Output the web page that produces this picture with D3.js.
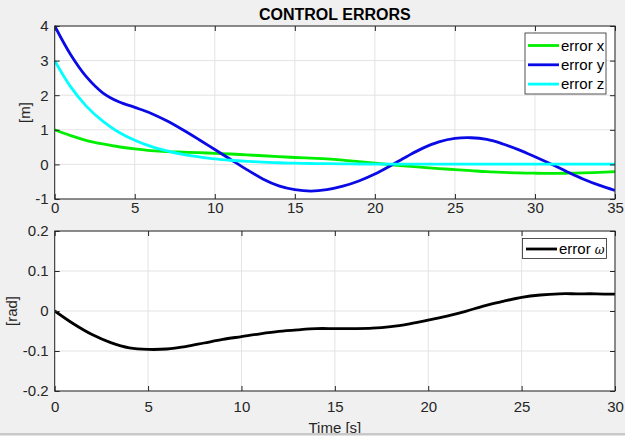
<!DOCTYPE html>
<html><head><meta charset="utf-8">
<script src="https://cdn.jsdelivr.net/npm/d3@7"></script>
<style>
html,body{margin:0;padding:0;background:#f0f0f0;}
svg{display:block;}
text{font-family:"Liberation Sans",Arial,Helvetica,sans-serif;}
</style></head>
<body>
<svg id="chart" width="625" height="441"></svg>
<script>
// ---- data ----
const timeTop = d3.range(0, 36);
const errorX = [1.0,0.83,0.69,0.59,0.51,0.45,0.40,0.37,0.355,0.34,0.32,0.30,0.275,0.25,0.225,0.20,0.18,0.16,0.125,0.08,0.035,-0.01,-0.05,-0.085,-0.12,-0.15,-0.18,-0.21,-0.23,-0.245,-0.255,-0.26,-0.255,-0.245,-0.23,-0.21];
const errorY = [4.0,3.17,2.52,2.07,1.81,1.65,1.48,1.26,1.00,0.72,0.43,0.14,-0.15,-0.42,-0.62,-0.73,-0.77,-0.73,-0.63,-0.48,-0.28,-0.03,0.23,0.47,0.65,0.75,0.77,0.72,0.59,0.42,0.22,0.01,-0.21,-0.42,-0.60,-0.75];
const errorZ = [3.0,2.24,1.67,1.25,0.93,0.70,0.52,0.39,0.29,0.22,0.16,0.12,0.09,0.065,0.048,0.035,0.026,0.02,0.015,0.012,0.01,0.01,0.01,0.01,0.01,0.01,0.01,0.01,0.01,0.01,0.01,0.01,0.01,0.01,0.01,0.01];
const timeBottom = d3.range(0, 31);
const errorW = [0,-0.032,-0.059,-0.079,-0.092,-0.096,-0.095,-0.089,-0.080,-0.071,-0.064,-0.057,-0.051,-0.047,-0.044,-0.044,-0.044,-0.043,-0.039,-0.032,-0.023,-0.013,-0.001,0.013,0.024,0.034,0.040,0.043,0.043,0.043,0.042];
const topXTicks = [0,5,10,15,20,25,30,35];
const topYTicks = [-1,0,1,2,3,4];
const botXTicks = [0,5,10,15,20,25,30];
const botYTicks = [-0.2,-0.1,0,0.1,0.2];
const topSeries = [
  {name:"error x", values:errorX, color:"#00ee00"},
  {name:"error y", values:errorY, color:"#0a0ae6"},
  {name:"error z", values:errorZ, color:"#00ffff"}
];
const title = "CONTROL ERRORS";

// ---- layout ----
const svg = d3.select("#chart");
const L = 54.7, R = 615;
const axisColor = "#262626", gridColor = "#e3e3e3";
const hyph = s => s.replace("\u2212", "-");

function panel(top, bottom, xDomain, yDomain, xTicks, yTicks, yFmt, ylabel, ylabelX, xPad, clipId){
  const x = d3.scaleLinear().domain(xDomain).range([L, R]);
  const y = d3.scaleLinear().domain(yDomain).range([bottom, top]);
  const g = svg.append("g");
  g.append("rect").attr("x", L).attr("y", top).attr("width", R-L).attr("height", bottom-top).attr("fill", "#fff");
  g.append("g").selectAll("line").data(xTicks).join("line")
    .attr("x1", d=>x(d)).attr("x2", d=>x(d)).attr("y1", top).attr("y2", bottom)
    .attr("stroke", gridColor).attr("stroke-width", 1);
  g.append("g").selectAll("line").data(yTicks).join("line")
    .attr("x1", L).attr("x2", R).attr("y1", d=>y(d)).attr("y2", d=>y(d))
    .attr("stroke", gridColor).attr("stroke-width", 1);
  svg.append("clipPath").attr("id", clipId).append("rect")
    .attr("x", L).attr("y", top-2).attr("width", R-L).attr("height", bottom-top+4);
  return {x, y, g, top, bottom, xTicks, yTicks, yFmt, ylabel, ylabelX, xPad};
}

function finishAxes(p){
  const {x, y, top, bottom, xTicks, yTicks, yFmt} = p;
  const style = sel => {
    sel.select(".domain").remove();
    sel.selectAll(".tick line").attr("stroke", axisColor);
    sel.selectAll(".tick text").attr("fill", axisColor).style("font-size", "15px");
  };
  svg.append("g").attr("transform", `translate(0,${bottom})`)
    .call(d3.axisBottom(x).tickValues(xTicks).tickSizeInner(-5).tickSizeOuter(0).tickPadding(p.xPad).tickFormat(d3.format("d")))
    .call(style);
  svg.append("g").attr("transform", `translate(0,${top})`)
    .call(d3.axisTop(x).tickValues(xTicks).tickSizeInner(-5).tickSizeOuter(0).tickFormat(""))
    .call(style);
  svg.append("g").attr("transform", `translate(${L},0)`)
    .call(d3.axisLeft(y).tickValues(yTicks).tickSizeInner(-5).tickSizeOuter(0).tickPadding(6).tickFormat(yFmt))
    .call(style);
  svg.append("g").attr("transform", `translate(${R},0)`)
    .call(d3.axisRight(y).tickValues(yTicks).tickSizeInner(-5).tickSizeOuter(0).tickFormat(""))
    .call(style);
  svg.append("rect").attr("x", L).attr("y", top).attr("width", R-L).attr("height", bottom-top)
    .attr("fill", "none").attr("stroke", axisColor).attr("stroke-width", 1);
  svg.append("text").attr("transform", `translate(${p.ylabelX},${(top+bottom)/2}) rotate(-90)`)
    .attr("text-anchor", "middle").attr("fill", axisColor).style("font-size", "15px").text(p.ylabel);
}

const curve = d3.line().curve(d3.curveCatmullRom.alpha(0.5));

// ---- top panel ----
const pTop = panel(26, 199, [0,35], [-1,4], topXTicks, topYTicks, d => hyph(d3.format("d")(d)), "[m]", 30, 3, "clipTop");
topSeries.forEach(s => {
  pTop.g.append("path")
    .attr("d", curve(timeTop.map((t,i)=>[pTop.x(t), pTop.y(s.values[i])])))
    .attr("fill", "none").attr("stroke", s.color).attr("stroke-width", 2.8)
    .attr("clip-path", "url(#clipTop)");
});
finishAxes(pTop);

// legend top
const lgT = svg.append("g");
lgT.append("rect").attr("x", 525).attr("y", 33).attr("width", 81).attr("height", 61)
  .attr("fill", "#fff").attr("stroke", axisColor).attr("stroke-width", 0.8);
topSeries.forEach((s,i) => {
  const cy = 45.5 + i*19.3;
  lgT.append("line").attr("x1", 528).attr("x2", 559).attr("y1", cy).attr("y2", cy)
    .attr("stroke", s.color).attr("stroke-width", 2.8);
  lgT.append("text").attr("x", 561).attr("y", cy+5).attr("fill", "#000").style("font-size", "15px").text(s.name);
});

// title
svg.append("text").attr("x", (L+R)/2).attr("y", 19.5).attr("text-anchor", "middle")
  .attr("fill", "#000").style("font-size", "16px").style("font-weight", "bold").text(title);

// ---- bottom panel ----
const pBot = panel(231, 391, [0,30], [-0.2,0.2], botXTicks, botYTicks, d => d===0 ? "0" : hyph(d3.format(".1f")(d)), "[rad]", 17, 10, "clipBot");
pBot.g.append("path")
  .attr("d", curve(timeBottom.map((t,i)=>[pBot.x(t), pBot.y(errorW[i])])))
  .attr("fill", "none").attr("stroke", "#000").attr("stroke-width", 2.8)
  .attr("clip-path", "url(#clipBot)");
finishAxes(pBot);

// legend bottom
const lgB = svg.append("g");
lgB.append("rect").attr("x", 522.5).attr("y", 238.5).attr("width", 84).attr("height", 20)
  .attr("fill", "#fff").attr("stroke", axisColor).attr("stroke-width", 0.8);
lgB.append("line").attr("x1", 526).attr("x2", 557).attr("y1", 249).attr("y2", 249)
  .attr("stroke", "#000").attr("stroke-width", 2.8);
const tB = lgB.append("text").attr("x", 559).attr("y", 254).attr("fill", "#000").style("font-size", "15px");
tB.append("tspan").text("error ");
tB.append("tspan").style("font-style", "italic").style("font-family", "'DejaVu Serif',serif").style("font-size", "12px").text("ω");

// x label (cut by window border)
svg.append("text").attr("x", (L+R)/2).attr("y", 433).attr("text-anchor", "middle")
  .attr("fill", axisColor).style("font-size", "15px").text("Time [s]");
svg.append("rect").attr("x", 0).attr("y", 433).attr("width", 625).attr("height", 8).attr("fill", "#fff");
svg.append("rect").attr("x", 0).attr("y", 433).attr("width", 625).attr("height", 2.5).attr("fill", "#c8c8c8");
</script>
</body></html>
